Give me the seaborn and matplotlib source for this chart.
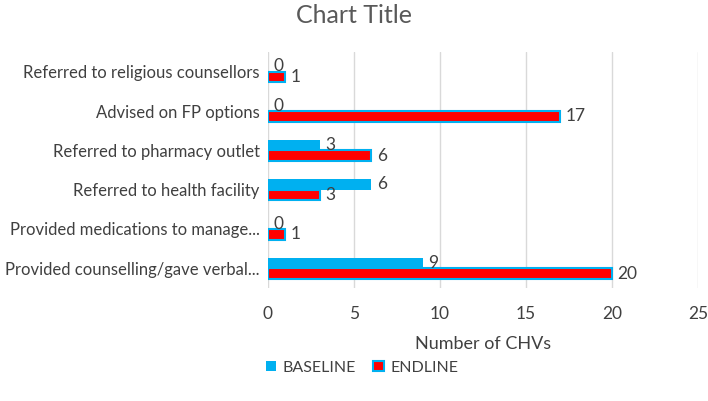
import matplotlib
matplotlib.use("Agg")
import matplotlib.pyplot as plt
import seaborn as sns
import pandas as pd
from matplotlib.patches import Patch

categories = [
    "Referred to religious counsellors",
    "Advised on FP options",
    "Referred to pharmacy outlet",
    "Referred to health facility",
    "Provided medications to manage...",
    "Provided counselling/gave verbal...",
]
baseline = [0, 0, 3, 6, 0, 9]
endline = [1, 17, 6, 3, 1, 20]
series = ["BASELINE", "ENDLINE"]

df = pd.DataFrame({
    "category": categories * 2,
    "value": baseline + endline,
    "series": [series[0]] * len(categories) + [series[1]] * len(categories),
})

sns.set_style("white")
plt.rcParams["font.family"] = ["Lato", "DejaVu Sans"]

cyan = "#00B0F0"
red = "#FF0000"
txt = "#404040"

fig = plt.figure(figsize=(7.08, 4.01), dpi=100)
ax = fig.add_axes([0.3785, 0.282, 0.986 - 0.3785, 0.870 - 0.282])

sns.barplot(data=df, y="category", x="value", hue="series", orient="h",
            palette={series[0]: cyan, series[1]: red}, width=0.54,
            dodge=True, ax=ax, legend=False, saturation=1)

for c in ax.containers:
    for p in c.patches:
        if p.get_facecolor()[0] > 0.9:  # red
            p.set_edgecolor(cyan)
            p.set_linewidth(1.5)
        else:
            p.set_edgecolor("none")
    ax.bar_label(c, fmt="%d", padding=4, fontsize=12.5, color=txt)

ax.set_xlim(0, 25)
ax.set_xticks([0, 5, 10, 15, 20, 25])
ax.xaxis.grid(True, color="#D9D9D9", linewidth=1)
ax.set_axisbelow(True)
for s in ax.spines.values():
    s.set_visible(False)
ax.tick_params(axis="both", length=0, labelcolor=txt)
ax.tick_params(axis="x", pad=13, labelsize=12.5)
ax.tick_params(axis="y", pad=6, labelsize=12)
ax.set_ylabel("")
ax.set_xlabel("Number of CHVs", fontsize=13, color=txt, labelpad=10)
fig.suptitle("Chart Title", fontsize=18, color="#595959", y=0.99)

handles = [Patch(facecolor=cyan, edgecolor="none"),
           Patch(facecolor=red, edgecolor=cyan, linewidth=1.5)]
fig.legend(handles, series, loc="center", bbox_to_anchor=(0.511, 0.083),
           ncol=2, frameon=False, fontsize=11.5, labelcolor=txt,
           handlelength=0.65, handleheight=0.65, columnspacing=1.1, handletextpad=0.4)

fig.savefig("out.png", dpi=100)
